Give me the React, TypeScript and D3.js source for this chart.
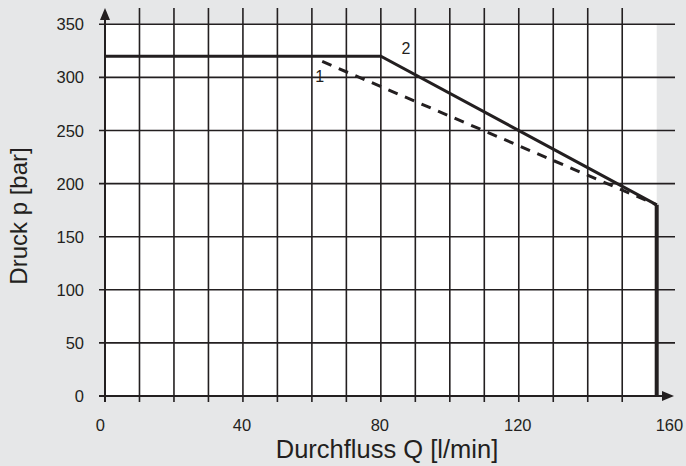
import React from "react";
import * as d3 from "d3";

const W = 686;
const H = 466;

// Data
const xTicks = [0, 40, 80, 120, 160];
const yTicks = [0, 50, 100, 150, 200, 250, 300, 350];
const xGrid = [10, 20, 30, 40, 50, 60, 70, 80, 90, 100, 110, 120, 130, 140, 150];
const curve2Q = [0, 80, 160, 160];
const curve2P = [320, 320, 180, 0];
const curve1Q = [63, 160];
const curve1P = [315, 180];
const labels = [
  { text: "1", q: 62.3, p: 296 },
  { text: "2", q: 87.3, p: 322 },
];

export default function App() {
  const x = d3.scaleLinear().domain([0, 160]).range([105, 656.7]);
  const y = d3.scaleLinear().domain([0, 350]).range([396, 24.3]);
  const ink = "#231f20";
  const font = "'Liberation Sans', Arial, sans-serif";

  const line = d3
    .line<[number, number]>()
    .x((d) => x(d[0]))
    .y((d) => y(d[1]));

  const c2: [number, number][] = curve2Q.map((q, i) => [q, curve2P[i]]);
  const c1: [number, number][] = curve1Q.map((q, i) => [q, curve1P[i]]);

  const xAnchor = (q: number) => (q === 0 ? "end" : q === 160 ? "start" : "middle");
  const xOffset = (q: number) => (q === 0 ? 0 : q === 160 ? -1 : -1);

  return (
    <div style={{ position: "fixed", left: 0, top: 0 }}>
      <svg width={W} height={H} style={{ display: "block" }}>
        <rect x={0} y={0} width={W} height={H} fill="#e6e7e8" />
        <rect
          x={x(0)}
          y={y(350)}
          width={x(160) - x(0)}
          height={y(0) - y(350)}
          fill="#ffffff"
        />
        {/* vertical grid */}
        {xGrid.map((q) => (
          <line
            key={"vx" + q}
            x1={x(q)}
            x2={x(q)}
            y1={8}
            y2={y(0) + 6}
            stroke={ink}
            strokeWidth={1.6}
          />
        ))}
        {/* horizontal grid */}
        {yTicks
          .filter((p) => p > 0)
          .map((p) => (
            <line
              key={"hy" + p}
              x1={x(0) - 6}
              x2={675}
              y1={y(p)}
              y2={y(p)}
              stroke={ink}
              strokeWidth={1.6}
            />
          ))}
        {/* axes */}
        <line x1={x(0)} x2={x(0)} y1={y(0) + 6} y2={16} stroke={ink} strokeWidth={2} />
        <path d={`M${x(0) - 5},${20} L${x(0)},${8} L${x(0) + 5},${20} Z`} fill={ink} />
        <line x1={x(0) - 6} x2={664} y1={y(0)} y2={y(0)} stroke={ink} strokeWidth={2} />
        <path d={`M${662},${y(0) - 5} L${674},${y(0)} L${662},${y(0) + 5} Z`} fill={ink} />
        {/* curves */}
        <path d={line(c1) || ""} fill="none" stroke={ink} strokeWidth={3} strokeDasharray="10,8" />
        <path d={line(c2.slice(0, 3)) || ""} fill="none" stroke={ink} strokeWidth={3} strokeLinejoin="miter" />
        <path d={line(c2.slice(2)) || ""} fill="none" stroke={ink} strokeWidth={4} />
        {labels.map((l) => (
          <text key={l.text} x={x(l.q)} y={y(l.p)} fontFamily={font} fontSize={16} fill={ink} textAnchor="middle">
            {l.text}
          </text>
        ))}
        {/* tick labels */}
        {yTicks.map((p) => (
          <text
            key={"yt" + p}
            x={84}
            y={y(p) + 6}
            fontFamily={font}
            fontSize={16.5}
            fill={ink}
            textAnchor="end"
          >
            {p}
          </text>
        ))}
        {xTicks.map((q) => (
          <text
            key={"xt" + q}
            x={x(q) + xOffset(q)}
            y={431}
            fontFamily={font}
            fontSize={16.5}
            fill={ink}
            textAnchor={xAnchor(q)}
          >
            {q}
          </text>
        ))}
        <text x={387} y={458} fontFamily={font} fontSize={25.5} fill={ink} textAnchor="middle">
          Durchfluss Q [l/min]
        </text>
        <text
          transform={`translate(27,216) rotate(-90)`}
          fontFamily={font}
          fontSize={24}
          fill={ink}
          textAnchor="middle"
        >
          Druck p [bar]
        </text>
      </svg>
    </div>
  );
}
